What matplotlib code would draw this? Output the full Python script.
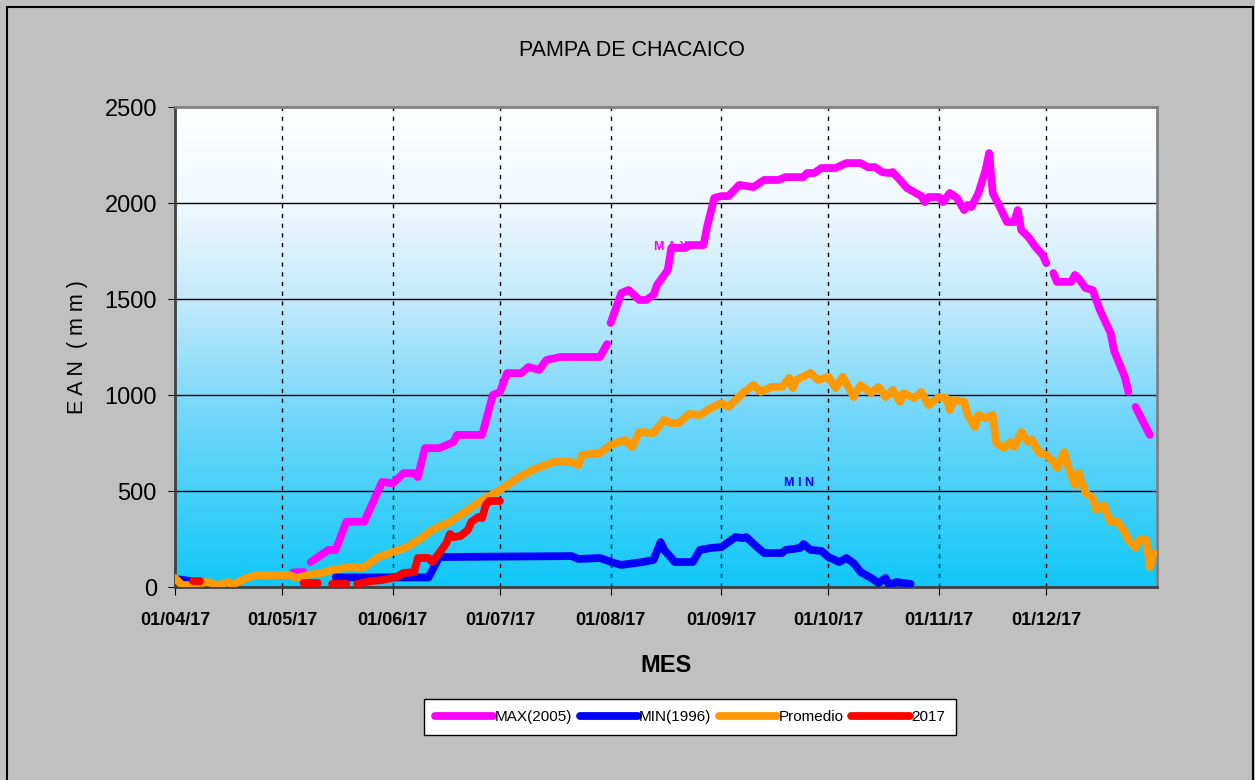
import numpy as np
import pandas as pd
import matplotlib
matplotlib.use("Agg")
import matplotlib.pyplot as plt
import matplotlib.dates as mdates
from matplotlib.colors import LinearSegmentedColormap
from matplotlib.lines import Line2D
from matplotlib.patches import Rectangle

plt.rcParams["font.family"] = ["Liberation Sans Narrow", "Liberation Sans", "DejaVu Sans"]

inicio = pd.Timestamp("2017-04-01")
nan = np.nan

# dias desde 01/04/17 y EAN (mm)
dias_max = [33, 36, None, 38, 43, 45, 48, 53, 58, 61, 64, 67, 68, 70, 74, 78, 79, 86, 87, 89, 91, 93,
            97, 99, 102, 104, 108, 119, 121, None, 122, 123, 125, 127, 128, 130, 132, 134, 135, 137,
            138, 139, 143, 144, 148, 149, 151, 153, 155, 158, 162, 165, 169, 171, 176, 177, 179, 181,
            185, 188, 192, 194, 196, 198, 200, 201, 203, 205, 207, 209, 210, 211, 214, 215, 217, 219,
            221, 222, 223, 225, 227, 228, 229, 231, 233, 235, 236, 237, 239, 241, 243, 244, None, 246,
            247, 251, 252, 253, 255, 257, 259, 262, 263, 266, 267, None, 269, 273]
ean_max = [75, 78, nan, 130, 193, 193, 340, 340, 547, 540, 593, 593, 573, 723, 723, 755, 792, 792, 860,
           1000, 1016, 1114, 1114, 1146, 1130, 1182, 1198, 1198, 1265, nan, 1375, 1427, 1531, 1547, 1531,
           1495, 1495, 1521, 1573, 1625, 1651, 1766, 1766, 1781, 1781, 1875, 2026, 2036, 2036, 2094, 2083,
           2120, 2120, 2135, 2135, 2156, 2156, 2182, 2182, 2208, 2208, 2187, 2187, 2161, 2156, 2161, 2120,
           2078, 2057, 2036, 2005, 2031, 2031, 2005, 2052, 2026, 1963, 1990, 1979, 2052, 2172, 2260, 2052,
           1979, 1901, 1901, 1963, 1859, 1823, 1771, 1729, 1687, nan, 1635, 1589, 1589, 1625, 1609, 1557,
           1547, 1443, 1323, 1230, 1094, 1016, nan, 938, 792]

dias_min = [0, 4, None, 45, 71, 74, 111, 113, 119, 123, 125, 131, 134, 136, 137, 140, 145, 147, 150,
            153, 155, 157, 159, 160, 163, 165, 170, 171, 175, 176, 178, 181, 183, 186, 188, 190, 192,
            195, 197, 199, 200, 202, 206]
ean_min = [42, 32, nan, 50, 50, 156, 161, 146, 151, 125, 115, 130, 141, 234, 193, 130, 130, 193, 203,
           208, 234, 260, 255, 260, 208, 177, 177, 193, 203, 224, 193, 188, 156, 130, 151, 125, 78,
           47, 21, 47, 10, 26, 16]

dias_prom = [0, 2, 5, 9, 12, 15, 16, 20, 23, 32, 34, 37, 41, 44, 49, 53, 57, 61, 65, 69, 72, 77, 82,
             86, 91, 96, 100, 106, 111, 113, 114, 119, 122, 126, 128, 130, 134, 137, 139, 141, 144,
             147, 150, 153, 155, 159, 162, 164, 167, 170, 172, 173, 174, 178, 180, 183, 185, 187, 189,
             190, 192, 195, 197, 199, 201, 203, 204, 207, 209, 211, 214, 216, 217, 218, 221, 222, 224,
             225, 227, 229, 230, 232, 234, 235, 237, 239, 240, 242, 244, 246, 247, 249, 250, 252, 253,
             255, 257, 258, 260, 262, 264, 266, 267, 269, 270, 272, 273, 274]
ean_prom = [47, 10, 10, 26, 10, 26, 10, 47, 62, 62, 47, 62, 73, 89, 104, 104, 156, 182, 208, 255, 297,
            339, 401, 453, 505, 568, 609, 651, 651, 635, 688, 698, 740, 766, 729, 807, 802, 870, 854,
            854, 901, 896, 932, 958, 938, 1010, 1052, 1016, 1042, 1042, 1089, 1036, 1078, 1115, 1078,
            1094, 1036, 1094, 1026, 990, 1052, 1010, 1042, 990, 1026, 964, 1010, 984, 1016, 948, 990,
            984, 922, 974, 964, 896, 833, 896, 880, 896, 750, 724, 755, 729, 807, 755, 766, 698, 688,
            651, 620, 703, 635, 531, 594, 490, 464, 401, 427, 339, 339, 286, 245, 203, 245, 245, 104, 177]

dias_2017 = [5, 7, None, 36, 40, None, 44, 48, None, 51, 55, 58, 62, 64, 67, 68, 71, 72, 74, 76, 77,
             78, 80, 82, 83, 85, 86, 87, 88, 91]
ean_2017 = [31, 31, nan, 21, 21, nan, 16, 16, nan, 16, 31, 36, 52, 73, 78, 151, 151, 130, 177, 229, 276,
            260, 266, 297, 339, 365, 359, 427, 448, 448]

series = [
    ("MAX(2005)", dias_max, ean_max, "#ff00ff"),
    ("MIN(1996)", dias_min, ean_min, "#0000ff"),
    ("Promedio", dias_prom, ean_prom, "#ff9900"),
    ("2017", dias_2017, ean_2017, "#ff0000"),
]


def a_fecha(dias):
    d = pd.Series([np.nan if v is None else v for v in dias], dtype=float)
    return inicio + pd.to_timedelta(d, unit="D")


fig = plt.figure(figsize=(12.55, 7.8), dpi=100)
fig.patch.set_facecolor("#c0c0c0")
fig.patches.append(Rectangle((7 / 1255, -0.01), 1246 / 1255, 1 - 7 / 780 + 0.01, transform=fig.transFigure,
                             fill=False, edgecolor="black", linewidth=1.5))

ax = fig.add_axes([175 / 1255, 1 - 587 / 780, 982 / 1255, 480 / 780])

x0, x1 = mdates.date2num(inicio), mdates.date2num(pd.Timestamp("2018-01-01"))
cmap = LinearSegmentedColormap.from_list(
    "fondo", [(0, "#10c8f8"), (0.35, "#70d6fa"), (0.6, "#c4eafc"), (0.8, "#f0f8fe"), (1, "#ffffff")])
grad = np.linspace(0, 1, 256).reshape(-1, 1)
ax.imshow(grad, cmap=cmap, aspect="auto", origin="lower", extent=[x0, x1, 0, 2500], zorder=0)

for nombre, dias, ean, color in series:
    ax.plot(a_fecha(dias), ean, color=color, lw=5.6, solid_capstyle="round",
            solid_joinstyle="round", zorder=3, label=nombre)

ax.set_xlim(x0, x1)
ax.set_ylim(0, 2500)
ax.set_yticks(range(0, 2501, 500))
meses = pd.date_range("2017-04-01", "2017-12-01", freq="MS")
ax.set_xticks(mdates.date2num(meses))
ax.set_xticklabels([m.strftime("%d/%m/%y") for m in meses], fontsize=13, fontweight="bold")
ax.tick_params(axis="y", labelsize=17, length=5, direction="out", pad=8)
ax.tick_params(axis="x", length=6, direction="out", pad=12)
for v in range(500, 2001, 500):
    ax.axhline(v, color="black", lw=1, zorder=1)
for m in meses[1:]:
    ax.axvline(mdates.date2num(m), color="black", lw=1, ls=(0, (3, 4)), zorder=1)

ax.spines["left"].set_color("#404040")
ax.spines["bottom"].set_color("#404040")
ax.spines["top"].set_color("#808080")
ax.spines["right"].set_color("#808080")
for s in ax.spines.values():
    s.set_linewidth(2)

ax.text(mdates.date2num(inicio + pd.Timedelta(days=134)), 1771, "M A X", color="#ff00ff",
        fontsize=9, fontweight="bold", va="center", ha="left", zorder=2)
ax.text(mdates.date2num(inicio + pd.Timedelta(days=170.6)), 542, "M I N", color="#0000ff",
        fontsize=9, fontweight="bold", va="center", ha="left", zorder=2)

fig.text(632 / 1255, 1 - 50 / 780, "PAMPA DE CHACAICO", fontsize=15.5, ha="center", va="center")
fig.text(666 / 1255, 1 - 665 / 780, "MES", fontsize=17, fontweight="bold", ha="center", va="center")
fig.text(78 / 1255, 1 - 347 / 780, "E A N  ( m m )", fontsize=15.5, rotation=90, ha="center", va="center")

handles = [Line2D([], [], color=c, lw=5.6, solid_capstyle="round") for _, _, _, c in series]
leg = fig.legend(handles, [s[0] for s in series], loc="center", bbox_to_anchor=(690 / 1255, 1 - 717 / 780),
                 ncol=4, fontsize=11, frameon=True, fancybox=False, handlelength=3.8, handletextpad=0.1,
                 columnspacing=0.5, borderpad=0.7, framealpha=1)
leg.get_frame().set_edgecolor("black")
leg.get_frame().set_facecolor("white")
leg.get_frame().set_linewidth(1)

fig.savefig("out.png", dpi=100, facecolor=fig.get_facecolor())
